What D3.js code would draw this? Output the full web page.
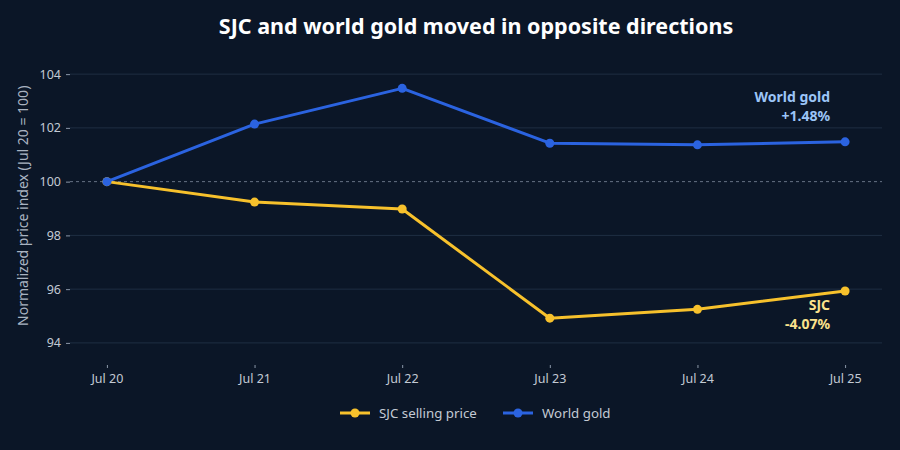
<!DOCTYPE html>
<html>
<head>
<meta charset="utf-8">
<script src="https://cdn.jsdelivr.net/npm/d3@7"></script>
<style>
  body { margin: 0; background: #0b1627; }
  svg { display: block; font-family: "Noto Sans", "Open Sans", sans-serif; }
</style>
</head>
<body>
<div id="chart"></div>
<script>
const months = ["Jul 20", "Jul 21", "Jul 22", "Jul 23", "Jul 24", "Jul 25"];
const sjcValues = [100, 99.24, 98.98, 94.92, 95.25, 95.93];
const worldValues = [100, 102.14, 103.47, 101.43, 101.37, 101.48];
const yTicks = [94, 96, 98, 100, 102, 104];

const width = 900, height = 450;
const margin = {top: 58, right: 18, bottom: 95, left: 70};
const fontFamily = '"Noto Sans", "Open Sans", sans-serif';

const svg = d3.select("#chart").append("svg")
    .attr("width", width)
    .attr("height", height);

svg.append("rect").attr("width", width).attr("height", height).attr("fill", "#0b1627");

const x = d3.scalePoint()
    .domain(months)
    .range([margin.left, width - margin.right])
    .padding(0.25);

const y = d3.scaleLinear()
    .domain([93.55, 104.6])
    .range([height - margin.bottom, margin.top]);

// title, centred over the plot area
svg.append("text")
    .attr("x", (margin.left + width - margin.right) / 2)
    .attr("y", 34)
    .attr("text-anchor", "middle")
    .attr("fill", "#ffffff")
    .style("font-size", "21.5px")
    .style("font-weight", "bold")
    .text("SJC and world gold moved in opposite directions");

// grid
const grid = svg.append("g");
grid.selectAll("line")
    .data(yTicks.filter(d => d !== 100))
    .enter().append("line")
    .attr("x1", margin.left).attr("x2", width - margin.right)
    .attr("y1", d => y(d)).attr("y2", d => y(d))
    .attr("stroke", "#1f2e42")
    .attr("stroke-width", 1);

grid.append("line")
    .attr("x1", margin.left).attr("x2", width - margin.right)
    .attr("y1", y(100)).attr("y2", y(100))
    .attr("stroke", "#7d8a9c")
    .attr("stroke-width", 1)
    .attr("stroke-dasharray", "3,3")
    .attr("opacity", 0.8);

// y axis
const yAxis = svg.append("g")
    .attr("transform", `translate(${margin.left},0)`)
    .call(d3.axisLeft(y).tickValues(yTicks).tickSize(4).tickPadding(5))
    .attr("font-family", fontFamily);
yAxis.select(".domain").remove();
yAxis.selectAll(".tick line").attr("stroke", "#8a96a8");
yAxis.selectAll(".tick text").attr("fill", "#c3cad4").style("font-size", "12.5px");

// x axis
const xAxis = svg.append("g")
    .attr("transform", `translate(0,${height - margin.bottom + 10})`)
    .call(d3.axisBottom(x).tickSize(3).tickPadding(6))
    .attr("font-family", fontFamily);
xAxis.select(".domain").remove();
xAxis.selectAll(".tick line").attr("stroke", "#8a96a8");
xAxis.selectAll(".tick text").attr("fill", "#c3cad4").style("font-size", "12.5px");

// y axis title
svg.append("text")
    .attr("transform", `translate(28,${y(99.1)}) rotate(-90)`)
    .attr("text-anchor", "middle")
    .attr("fill", "#a9b3c1")
    .style("font-size", "14px")
    .text("Normalized price index (Jul 20 = 100)");

const series = [
    {name: "SJC selling price", values: sjcValues, color: "#f7c12c"},
    {name: "World gold", values: worldValues, color: "#2b63e0"}
];

const line = d3.line()
    .x((d, i) => x(months[i]))
    .y(d => y(d));

series.forEach(s => {
    svg.append("path")
        .datum(s.values)
        .attr("d", line)
        .attr("fill", "none")
        .attr("stroke", s.color)
        .attr("stroke-width", 3)
        .attr("stroke-linejoin", "round");
    svg.append("g").selectAll("circle")
        .data(s.values)
        .enter().append("circle")
        .attr("cx", (d, i) => x(months[i]))
        .attr("cy", d => y(d))
        .attr("r", 4.5)
        .attr("fill", s.color);
});

// end annotations
const last = months.length - 1;
const worldChange = (worldValues[last] / worldValues[0] - 1) * 100;
const sjcChange = (sjcValues[last] / sjcValues[0] - 1) * 100;

const ann = svg.append("g").style("font-size", "14px").style("font-weight", "bold");
const wx = x(months[last]) - 15;
ann.append("text")
    .attr("x", wx).attr("y", y(worldValues[last]) - 40)
    .attr("text-anchor", "end").attr("fill", "#9cc5f7")
    .text("World gold");
ann.append("text")
    .attr("x", wx).attr("y", y(worldValues[last]) - 21)
    .attr("text-anchor", "end").attr("fill", "#9cc5f7")
    .text("+" + worldChange.toFixed(2) + "%");
ann.append("text")
    .attr("x", wx).attr("y", y(sjcValues[last]) + 19)
    .attr("text-anchor", "end").attr("fill", "#fbe28c")
    .text("SJC");
ann.append("text")
    .attr("x", wx).attr("y", y(sjcValues[last]) + 38)
    .attr("text-anchor", "end").attr("fill", "#fbe28c")
    .text(sjcChange.toFixed(2) + "%");

// legend
const legend = svg.append("g").attr("transform", "translate(340,413)");
const items = legend.selectAll("g")
    .data(series)
    .enter().append("g")
    .attr("transform", (d, i) => `translate(${i === 0 ? 0 : 163},0)`);
items.append("line")
    .attr("x1", 0).attr("x2", 30)
    .attr("stroke", d => d.color).attr("stroke-width", 3);
items.append("circle")
    .attr("cx", 15).attr("r", 4.5).attr("fill", d => d.color);
items.append("text")
    .attr("x", 39).attr("dy", "0.35em")
    .attr("fill", "#c3cad4")
    .style("font-size", "13.3px")
    .text(d => d.name);
</script>
</body>
</html>
